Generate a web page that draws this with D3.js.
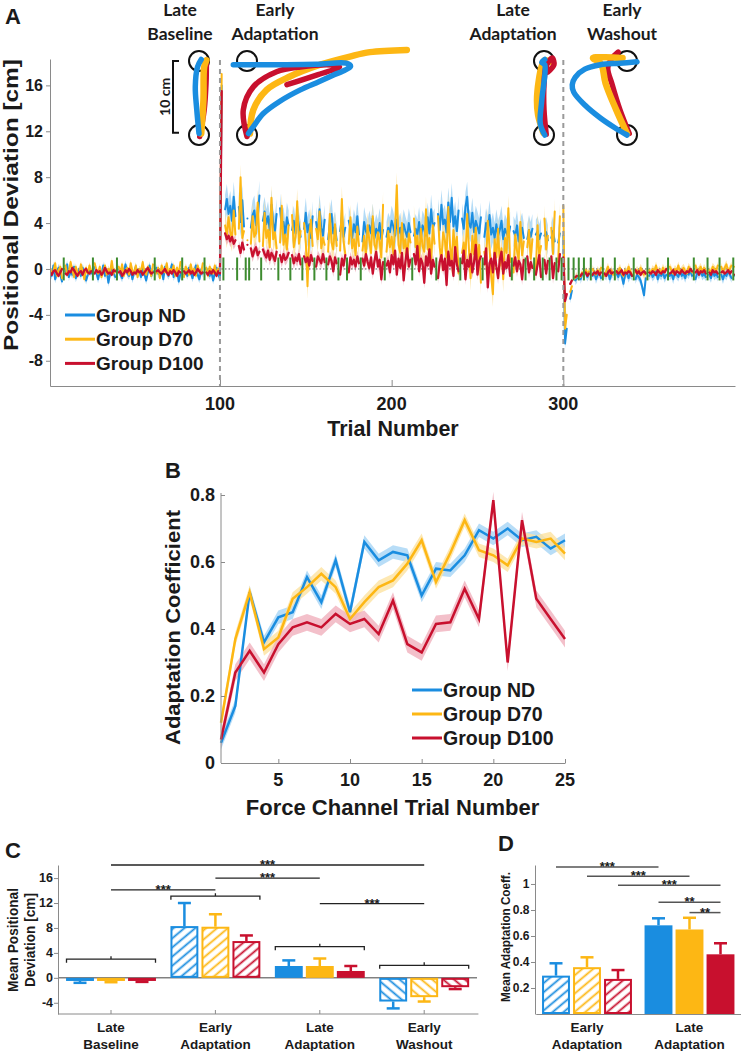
<!DOCTYPE html>
<html><head><meta charset="utf-8">
<script src="https://cdn.jsdelivr.net/npm/d3@7"></script>
<style>body{margin:0;background:#fff}svg{display:block}</style>
</head><body>
<svg id="fig" width="741" height="1051"></svg>
<script>
// ================= DATA =================
const groups = ["Group ND", "Group D70", "Group D100"];
const groupColors = ["#1a8de0", "#fdb714", "#c8102e"];
const bandColors = ["#a6d5f5", "#fde2a0", "#f0b0bd"];
const channelColor = "#3d8b2f";

// ---- Panel A: positional deviation per trial (cm) ----
const xTicksA = [100, 200, 300];
const yTicksA = [-8, -4, 0, 4, 8, 12, 16];
const phaseBoundsA = [100, 300];
const channelsBase = [9, 26, 40, 62, 78, 91];
const channelsAdapt = [102, 110, 115, 117, 124, 134, 141, 148, 155, 162, 169, 174, 182, 196, 212, 226, 240, 253, 270, 278, 283, 288, 292, 296, 299];
const channelsWash = [303, 306, 309, 312, 316, 323, 330, 341, 349, 361, 376, 384, 391, 399];

const baseND = [-0.2,-0.6,0.3,-0.9,-0.4,0.1,-0.5,-1.1,-0.3,-0.2,0.4,-0.7,-0.2,-0.5,0.2,-0.8,-0.4,-0.1,-0.6,0.1,-0.3,-1.0,-0.5,0.0,-0.4,-0.7,0.2,-0.3,-0.9,-0.2,-0.5,0.3,-0.6,-0.1,-1.2,-0.4,0.0,-0.3,-0.7,-0.2,0.1,-0.5,-0.8,-0.2,0.4,-0.4,-0.6,-0.1,-0.9,-0.3,0.2,-0.5,-0.2,-0.7,0.0,-0.4,-1.0,-0.3,0.3,-0.6,-0.2,-0.8,0.1,-0.4,-0.5,-0.1,-0.9,0.2,-0.3,-0.6,-0.2,0.4,-0.7,-0.3,-0.1,-1.1,-0.4,0.0,-0.5,-0.2,-0.6,0.1,-0.3,-0.8,-0.2,0.3,-0.5,-0.9,-0.1,-0.4,-0.7,0.0,-0.3,-0.6,-0.2,-1.0,-0.4,0.1,-0.5,-0.8];
const baseD70 = [0.1,-0.4,-0.2,0.5,-0.6,-0.1,0.2,-0.8,-0.3,0.3,-0.5,-0.2,0.6,-0.1,-0.7,0.2,-0.3,-0.5,0.4,-0.2,-0.9,0.1,-0.4,0.3,-0.2,-0.6,0.5,-0.1,-0.4,0.2,-0.7,-0.2,0.3,-0.5,0.0,-0.3,0.7,-0.4,-0.1,-0.8,0.2,-0.3,0.4,-0.6,-0.1,0.1,-0.5,0.5,-0.2,-0.4,0.3,-0.7,0.0,-0.2,0.6,-0.3,-0.5,0.2,-0.1,-0.6,0.4,-0.2,-0.4,0.1,-0.8,0.3,-0.1,-0.3,0.5,-0.5,0.0,-0.2,0.3,-0.6,0.1,-0.4,0.6,-0.2,-0.7,0.2,-0.1,-0.5,0.4,-0.3,0.0,-0.6,0.3,-0.2,-0.4,0.5,-0.3,0.1,-0.6,0.2,-0.2,-0.4,0.3,-0.5,0.0,-0.3];
const baseD100 = [-0.3,-0.5,-0.2,-0.1,-0.4,-0.6,-0.3,0.0,-0.2,-0.4,-0.5,-0.2,-0.3,0.1,-0.1,-0.4,-0.6,-0.3,-0.2,-0.5,-0.1,0.0,-0.3,-0.4,-0.2,-0.6,-0.4,-0.1,-0.3,-0.2,-0.5,-0.3,0.1,-0.2,-0.4,-0.3,-0.5,-0.1,-0.2,-0.4,-0.3,-0.2,-0.6,-0.4,-0.1,-0.3,0.0,-0.2,-0.5,-0.3,-0.4,-0.1,-0.3,-0.2,-0.5,-0.3,-0.1,0.1,-0.2,-0.4,-0.3,-0.5,-0.2,-0.1,-0.3,-0.4,-0.2,0.0,-0.3,-0.5,-0.2,-0.4,-0.1,-0.3,-0.6,-0.2,-0.3,0.1,-0.2,-0.4,-0.3,-0.1,-0.4,-0.2,-0.5,-0.3,0.0,-0.2,-0.4,-0.3,-0.1,-0.3,-0.5,-0.2,-0.4,-0.1,-0.3,-0.6,-0.2,-0.4];

const adaptND = [16.0,7.5,5.2,6.1,4.8,5.5,4.2,6.3,4.6,3.9,5.4,4.1,6.0,3.7,4.9,4.4,5.8,3.6,4.7,5.1,3.8,4.5,6.4,3.5,4.2,5.0,3.9,4.6,3.4,5.6,4.0,3.3,4.8,3.9,5.3,3.6,4.1,2.9,4.5,3.8,5.0,3.4,4.2,3.1,4.7,3.7,2.8,4.4,3.5,4.9,3.2,3.9,2.7,4.6,3.3,4.1,3.0,5.2,3.6,2.9,4.3,3.4,2.6,3.9,4.8,3.1,3.7,2.5,4.0,3.3,4.5,2.8,3.6,3.0,4.2,3.5,2.7,3.9,3.2,4.6,3.0,3.7,2.4,4.1,3.3,2.9,3.8,3.1,4.4,2.7,3.5,3.0,4.0,2.6,3.4,3.9,2.8,3.6,3.2,4.2,3.7,2.9,4.3,3.1,3.6,2.7,3.9,3.3,2.8,4.0,3.2,4.6,2.9,3.5,3.0,4.1,2.6,3.8,3.4,2.9,4.5,3.1,5.2,3.6,4.0,2.8,4.8,3.4,5.6,3.9,4.3,3.2,5.8,4.1,6.2,3.7,4.6,3.3,5.1,3.8,4.4,3.5,5.4,6.3,4.0,3.6,4.9,3.2,4.2,3.7,3.1,4.5,3.4,2.8,4.0,3.3,4.7,3.0,3.6,2.7,3.9,2.9,3.4,4.2,2.6,3.5,3.1,2.8,3.7,2.5,3.3,2.9,3.8,2.4,3.1,3.6,2.7,3.2,2.6,3.4,2.8,3.5,2.5,3.0,3.3,2.6,3.1,2.4,2.9,3.2,2.5,3.0,2.7,3.3,2.4,2.8,2.3,3.1,2.6,2.9];
const adaptD70 = [17.0,6.0,3.8,2.9,4.5,3.2,2.6,5.1,3.0,2.4,3.5,8.0,2.7,3.3,7.0,2.5,3.9,2.2,4.6,2.8,3.1,5.8,2.4,3.6,2.0,4.9,2.7,3.4,1.9,6.2,2.6,3.2,1.8,4.4,2.3,5.5,2.1,3.0,1.7,3.8,2.5,4.7,1.9,2.8,5.9,2.2,3.3,1.6,4.0,2.4,-1.5,2.9,4.3,2.0,1.4,3.5,2.6,5.0,1.8,2.7,2.1,3.6,1.5,4.8,2.3,1.7,3.9,2.0,6.0,1.6,6.1,2.4,1.3,3.4,2.2,4.5,1.8,2.6,1.2,3.7,2.0,5.3,1.6,2.9,1.1,3.8,2.5,1.4,4.6,2.1,1.7,3.2,2.4,1.0,5.6,2.2,1.5,3.3,1.9,2.8,1.3,3.6,7.3,2.1,1.4,4.0,1.8,2.6,0.9,3.1,2.3,1.2,4.4,1.9,2.9,0.8,3.5,2.0,1.5,5.2,1.7,2.7,0.6,3.8,2.2,1.3,4.6,1.9,0.7,3.2,2.5,1.0,5.4,2.0,0.5,3.4,1.6,2.8,-0.4,3.9,1.4,2.3,0.9,4.8,1.8,-0.8,2.9,1.3,3.6,0.7,2.1,-1.2,3.3,1.5,0.4,4.2,1.9,-0.6,-2.2,2.6,1.0,3.5,0.3,1.8,-0.9,2.7,1.4,5.3,0.6,2.2,-0.3,3.0,1.6,0.8,4.1,1.2,2.4,-0.5,1.9,3.4,0.9,2.6,1.5,-0.2,3.8,1.1,2.0,0.5,4.4,1.7,2.9,0.8,3.6,1.3,5.0,2.1,0.6,4.6,1.8,5.5];
const adaptD100 = [15.5,5.0,3.1,2.6,2.9,2.4,2.8,2.2,2.5,1.6,2.0,1.4,2.3,1.7,1.5,2.1,1.3,1.8,1.1,1.6,1.9,1.2,1.5,0.9,1.7,1.3,1.0,1.6,0.8,1.4,1.1,0.7,1.5,0.9,1.2,0.6,1.3,0.8,1.0,1.4,0.9,1.2,0.5,1.0,0.7,1.3,0.4,0.9,1.1,0.6,1.0,0.3,1.2,0.7,0.9,0.2,1.1,0.8,0.5,1.3,0.6,0.9,0.4,1.1,0.7,-0.2,1.0,0.5,0.8,-0.5,0.9,0.3,1.2,0.6,-0.3,1.0,0.4,0.8,0.2,1.1,0.5,-0.6,0.9,0.3,1.3,0.6,0.1,1.0,-0.4,0.7,1.5,0.2,0.8,-0.9,0.6,1.9,0.3,0.7,-0.3,1.2,0.4,1.6,-0.5,0.9,0.1,1.4,-1.0,0.6,1.8,0.2,0.8,-0.7,1.3,0.4,2.0,-0.2,0.9,0.5,-1.2,1.1,0.3,1.7,-0.4,0.8,0.2,2.2,-0.8,0.6,1.2,-0.1,0.9,-1.4,1.5,0.3,0.7,-0.6,1.9,0.4,-0.2,1.0,0.5,1.6,-0.9,0.8,0.2,1.3,-0.3,0.6,2.1,-0.5,0.7,1.1,-0.1,0.4,1.8,-1.6,0.5,0.9,-0.3,1.4,0.2,-0.8,0.8,1.5,-0.4,0.6,0.1,1.2,-0.6,0.9,0.3,1.0,-0.2,0.7,0.4,-0.9,0.8,0.2,1.1,-0.3,0.6,0.1,0.9,-0.5,0.4,1.2,-0.7,0.5,0.8,-0.4,0.7,0.2,1.1,-0.8,0.5,0.9,-0.2,1.3,0.4,1.0];

const washND = [-6.5,-5.2,-3.8,-2.6,-1.9,-1.4,-1.0,-0.8,-0.6,-0.9,-0.5,-0.8,-0.3,-0.7,-0.4,-1.1,-0.6,-0.2,-0.9,-0.5,-0.3,-0.8,-1.2,-0.4,-0.6,-0.1,-0.9,-0.5,-0.3,-1.0,-0.4,-0.7,-0.2,-0.6,-1.3,-0.5,-0.3,-0.8,-0.4,-0.6,-0.2,-0.9,-0.5,-0.7,-1.0,-1.6,-2.3,-0.8,-0.4,-0.6,-0.3,-0.7,-0.5,-0.2,-0.9,-0.4,-0.6,-0.3,-0.8,-0.5,-0.2,-0.6,-0.4,-0.9,-0.3,-0.5,-0.7,-0.2,-0.6,-0.4,-0.8,-0.3,-0.5,-0.1,-0.6,-0.4,-0.9,-0.3,-0.5,-0.2,-0.6,-0.4,-0.7,-0.3,-0.5,-0.8,-0.2,-0.6,-0.4,-0.7,-0.3,-0.5,-0.9,-0.4,-0.6,-0.2,-0.5,-0.8,-0.4,-0.6];
const washD70 = [-5.2,-4.0,-2.9,-2.0,-1.5,-1.1,-0.8,-0.6,-0.4,-0.7,-0.3,-0.5,-0.1,-0.4,-0.2,-0.6,0.0,-0.3,-0.5,-0.1,-0.4,0.1,-0.3,-0.6,-0.2,0.2,-0.4,-0.1,-0.5,0.0,-0.3,-0.2,0.1,-0.4,-0.6,-0.1,-0.3,0.2,-0.2,-0.5,0.0,-0.3,-0.1,-0.4,0.1,-0.2,-0.5,-0.3,0.2,-0.1,-0.4,0.0,-0.2,0.3,-0.3,-0.1,-0.4,0.1,-0.2,0.0,-0.3,0.2,-0.1,-0.4,0.0,-0.2,0.3,-0.3,-0.1,0.1,-0.2,-0.4,0.2,-0.1,-0.3,0.0,0.3,-0.2,-0.1,0.2,-0.3,0.1,-0.2,0.4,-0.1,-0.3,0.2,0.0,-0.2,0.3,-0.1,0.2,-0.3,0.1,0.4,-0.2,0.0,0.3,-0.1,0.2];
const washD100 = [-2.8,-2.2,-1.7,-1.3,-1.0,-0.8,-0.7,-0.6,-0.5,-0.6,-0.4,-0.5,-0.3,-0.6,-0.4,-0.2,-0.5,-0.3,-0.4,-0.2,-0.5,-0.3,-0.2,-0.4,-0.6,-0.3,-0.1,-0.4,-0.3,-0.5,-0.2,-0.4,-0.3,-0.1,-0.5,-0.3,-0.4,-0.2,-0.3,-0.6,-0.3,-0.1,-0.4,-0.2,-0.5,-0.3,-0.2,-0.4,-0.1,-0.3,-0.4,-0.2,-0.3,-0.5,-0.1,-0.3,-0.4,-0.2,-0.3,0.0,-0.2,-0.4,-0.3,-0.1,-0.5,-0.2,-0.3,-0.4,-0.1,-0.3,-0.4,-0.2,-0.3,0.0,-0.2,-0.4,-0.3,-0.1,-0.5,-0.2,-0.3,-0.1,-0.4,-0.2,-0.3,-0.5,-0.1,-0.3,-0.2,-0.4,-0.1,-0.3,-0.2,-0.4,-0.3,-0.1,-0.4,-0.2,-0.3,-0.5];

// SEM per phase [baseline, adaptation, washout]
const semND_A = [0.35, 1.3, 0.4];
const semD70_A = [0.3, 1.1, 0.35];
const semD100_A = [0.2, 0.5, 0.2];

// Hand-path trajectories (cm; x lateral, y forward from start target)
const trajTitles = [["Late", "Baseline"], ["Early", "Adaptation"], ["Late", "Adaptation"], ["Early", "Washout"]];
const trajLB_ND = [[0.0,0.2],[-0.3,3.4],[-0.5,6.5],[-0.2,9.2],[0.3,10.2]];
const trajLB_D70 = [[0.3,0.2],[0.6,4.7],[0.7,9.2],[1.0,10.1]];
const trajLB_D100 = [[0.1,-0.2],[0.7,3.4],[0.95,7.0],[1.0,10.1]];
const trajEA_ND = [[0.2,0.2],[0.9,1.2],[2.2,2.9],[4.5,4.6],[7.2,6.1],[9.7,7.2],[11.7,8.1],[13.3,8.8],[14.0,9.3],[13.4,9.7],[9.4,9.55],[4.9,9.5],[-1.85,9.5]];
const trajEA_D70 = [[0.4,0.2],[0.85,3.4],[2.65,6.1],[5.8,7.9],[9.9,9.5],[13.9,10.6],[16.6,11.2],[21.6,11.5]];
const trajEA_D100 = [[0.0,-0.2],[-0.5,3.4],[0.85,6.5],[4.0,8.55],[7.2,9.2],[11.6,9.45],[12.5,9.2],[9.4,8.1],[5.4,6.8]];
const trajLA_ND = [[0.1,0.0],[-0.5,1.5],[-0.3,4.7],[0.1,9.5],[-0.3,9.8],[0.1,10.2]];
const trajLA_D70 = [[-0.1,0.3],[-0.8,2.7],[-0.95,4.7],[-0.7,7.4],[-0.3,9.3],[0.1,10.1],[0.8,9.9]];
const trajLA_D100 = [[0.3,0.1],[0.0,3.4],[0.0,6.8],[0.3,9.3],[1.1,10.4],[1.35,9.5],[0.5,8.5]];
const trajEW_ND = [[0.0,0.0],[-1.6,0.95],[-3.6,2.3],[-5.7,4.05],[-7.2,5.8],[-7.4,6.8],[-7.0,7.8],[-5.7,8.9],[-3.6,9.5],[-0.95,9.7],[1.35,9.9]];
const trajEW_D70 = [[0.0,0.2],[-1.5,3.5],[-2.9,7.0],[-3.5,9.6],[-4.6,10.4],[-3.0,10.5],[-0.6,10.4]];
const trajEW_D100 = [[0.3,0.2],[-0.95,3.4],[-2.0,6.8],[-2.6,9.1],[-2.0,10.4],[-1.2,11.2]];

// ---- Panel B: adaptation coefficient per force channel trial ----
const fcTrials = [1,2,3,4,5,6,7,8,9,10,11,12,13,14,15,16,17,18,19,20,21,22,23,24,25];
const xTicksB = [5, 10, 15, 20, 25];
const yTicksB = [0, 0.2, 0.4, 0.6, 0.8];
const acND = [0.06,0.17,0.51,0.36,0.435,0.45,0.555,0.48,0.605,0.45,0.66,0.605,0.63,0.62,0.50,0.58,0.575,0.62,0.695,0.67,0.70,0.665,0.675,0.64,0.665];
const acD70 = [0.12,0.37,0.51,0.34,0.375,0.49,0.525,0.565,0.525,0.43,0.48,0.525,0.545,0.595,0.665,0.54,0.627,0.725,0.635,0.62,0.59,0.67,0.66,0.67,0.625];
const acD100 = [0.07,0.27,0.335,0.27,0.355,0.405,0.42,0.405,0.445,0.415,0.43,0.385,0.485,0.355,0.33,0.415,0.42,0.52,0.43,0.785,0.30,0.725,0.49,0.43,0.37];
const semB = [0.02, 0.02, 0.025];

// ---- Panel C: mean positional deviation per phase ----
const catsC = ["Late Baseline", "Early Adaptation", "Late Adaptation", "Early Washout"];
const yTicksC = [-4, 0, 4, 8, 12, 16];
const mpdND = [-0.5, 8.3, 1.9, -3.8];
const mpdD70 = [-0.5, 8.2, 1.9, -3.1];
const mpdD100 = [-0.5, 5.9, 1.1, -1.5];
const mpdErrND = [0.3, 3.7, 0.9, 1.1];
const mpdErrD70 = [0.2, 2.0, 1.2, 0.7];
const mpdErrD100 = [0.15, 0.9, 0.8, 0.3];
const hatchedC = [false, true, false, true];
const bracketC = [3.0, 13.1, 5.0, 2.0];
// [fromCategory, toCategory, height, label]
const sigC = [[0, 3, 18.1, "***"], [1, 2, 16.0, "***"], [0, 1, 14.1, "***"], [2, 3, 11.9, "***"]];

// ---- Panel D: mean adaptation coefficient ----
const catsD = ["Early Adaptation", "Late Adaptation"];
const yTicksD = [0.2, 0.4, 0.6, 0.8, 1];
const macND = [0.295, 0.682];
const macD70 = [0.36, 0.65];
const macD100 = [0.27, 0.459];
const macErrND = [0.095, 0.054];
const macErrD70 = [0.076, 0.09];
const macErrD100 = [0.068, 0.085];
const hatchedD = [true, false];
// [[cat, group], [cat, group], height, label]
const sigD = [[[0,0],[1,0],1.13,"***"], [[0,1],[1,1],1.06,"***"], [[0,2],[1,2],0.99,"***"], [[1,0],[1,2],0.86,"**"], [[1,1],[1,2],0.78,"**"]];

// ================= DRAWING =================
const ARIAL = "'Liberation Sans', Arial, Helvetica, sans-serif";
const LATO = "Lato, 'Open Sans', sans-serif";
const TXT = "#1a1a1a";
const AXC = "#8a8a8a";
const svg = d3.select("#fig");
svg.append("rect").attr("width", 741).attr("height", 1051).attr("fill", "#fff");

function htext(g, x, y, s, size, anchor = "middle", family = ARIAL) {
  return g.append("text").attr("x", x).attr("y", y).attr("dy", "0.35em")
    .attr("text-anchor", anchor).attr("font-family", family).attr("font-weight", "bold")
    .attr("font-size", size).attr("fill", TXT).text(s);
}
function vtext(g, x, y, s, size, len) {
  return g.append("text").attr("transform", `translate(${x},${y}) rotate(-90)`)
    .attr("text-anchor", "middle").attr("font-family", ARIAL).attr("font-weight", "bold")
    .attr("font-size", size).attr("fill", TXT).attr("textLength", len)
    .attr("lengthAdjust", "spacingAndGlyphs").text(s);
}
function styleAxis(sel) {
  sel.selectAll("path,line").attr("stroke", AXC).attr("stroke-width", 1);
  sel.selectAll("text").remove();
}

// defs: hatch patterns
const defs = svg.append("defs");
groupColors.forEach((c, i) => {
  [["up", -40], ["down", 40]].forEach(([nm, ang]) => {
    const p = defs.append("pattern").attr("id", `hatch-${i}-${nm}`).attr("patternUnits", "userSpaceOnUse")
      .attr("width", 10).attr("height", 7).attr("patternTransform", `rotate(${ang})`);
    p.append("rect").attr("width", 10).attr("height", 7).attr("fill", "#fff");
    p.append("line").attr("x1", -1).attr("x2", 11).attr("y1", 3.5).attr("y2", 3.5).attr("stroke", c).attr("stroke-width", 1.8);
  });
});

// ---------- Panel A ----------
const gA = svg.append("g");
const xA = d3.scaleLinear().domain([1, 400]).range([50, 735]);
const yA = d3.scaleLinear().domain([-10.2, 18.3]).range([386, 59]);
defs.append("clipPath").attr("id", "clipA").append("rect").attr("x", 50).attr("y", 59).attr("width", 685).attr("height", 327);

const channelSet = new Set([...channelsBase, ...channelsAdapt, ...channelsWash]);
function buildSeries(base, adapt, wash, sem) {
  return base.concat(adapt, wash).map((v, i) => {
    const t = i + 1;
    const ph = t <= phaseBoundsA[0] ? 0 : (t <= phaseBoundsA[1] ? 1 : 2);
    return { t, v: channelSet.has(t) ? null : v, s: sem[ph] };
  });
}
const seriesA = [
  buildSeries(baseND, adaptND, washND, semND_A),
  buildSeries(baseD70, adaptD70, washD70, semD70_A),
  buildSeries(baseD100, adaptD100, washD100, semD100_A)
];
const areaA = d3.area().defined(d => d.v !== null).x(d => xA(d.t)).y0(d => yA(d.v - d.s)).y1(d => yA(d.v + d.s));
const lineA = d3.line().defined(d => d.v !== null).x(d => xA(d.t)).y(d => yA(d.v));
const plotA = gA.append("g").attr("clip-path", "url(#clipA)");
seriesA.forEach((s, i) => plotA.append("path").attr("d", areaA(s)).attr("fill", bandColors[i]).attr("opacity", 0.85));
plotA.append("line").attr("x1", xA(1)).attr("x2", xA(400)).attr("y1", yA(0)).attr("y2", yA(0))
  .attr("stroke", "#555").attr("stroke-width", 1).attr("stroke-dasharray", "1.5,2");
seriesA.forEach((s, i) => plotA.append("path").attr("d", lineA(s)).attr("fill", "none")
  .attr("stroke", groupColors[i]).attr("stroke-width", i === 2 ? 2.3 : 2).attr("stroke-linejoin", "round").attr("stroke-linecap", "round"));
[...channelSet].forEach(t => plotA.append("line").attr("x1", xA(t)).attr("x2", xA(t))
  .attr("y1", yA(-1.0)).attr("y2", yA(1.0)).attr("stroke", channelColor).attr("stroke-width", 2));

// axes A
const axAy = gA.append("g").attr("transform", `translate(${xA.range()[0]},0)`)
  .call(d3.axisLeft(yA).tickValues(yTicksA).tickSize(4).tickSizeOuter(0));
styleAxis(axAy);
const axAx = gA.append("g").attr("transform", `translate(0,${yA.range()[0]})`)
  .call(d3.axisBottom(xA).tickValues(xTicksA).tickSize(-6).tickSizeOuter(0));
styleAxis(axAx);
yTicksA.forEach(v => htext(gA, 43, yA(v), String(v), 16, "end"));
xTicksA.forEach(v => htext(gA, xA(v), 404, String(v), 18));
phaseBoundsA.forEach(t => gA.append("line").attr("x1", xA(t)).attr("x2", xA(t)).attr("y1", 60).attr("y2", yA.range()[0])
  .attr("stroke", "#9a9a9a").attr("stroke-width", 2).attr("stroke-dasharray", "5,4"));
vtext(gA, 18, 205, "Positional Deviation [cm]", 20, 292);
htext(gA, 393, 428, "Trial Number", 21.5);
htext(gA, 5, 16, "A", 22, "start");

// legend A
groups.forEach((gname, i) => {
  const y = 315 + i * 24.2;
  gA.append("line").attr("x1", 65).attr("x2", 95).attr("y1", y).attr("y2", y).attr("stroke", groupColors[i]).attr("stroke-width", 3);
  htext(gA, 96, y, gname, 19, "start");
});

// trajectories
const trajSets = [
  { cx: 199, tx: 180, paths: [trajLB_ND, trajLB_D70, trajLB_D100], order: [2, 1, 0] },
  { cx: 247, tx: 275, paths: [trajEA_ND, trajEA_D70, trajEA_D100], order: [1, 2, 0] },
  { cx: 544, tx: 513, paths: [trajLA_ND, trajLA_D70, trajLA_D100], order: [1, 2, 0] },
  { cx: 627, tx: 622, paths: [trajEW_ND, trajEW_D70, trajEW_D100], order: [2, 1, 0] }
];
const tyS = d3.scaleLinear().domain([0, 10]).range([135, 61]);
const txS = d3.scaleLinear().domain([0, 10]).range([0, 74]);
const gT = svg.append("g");
trajSets.forEach((ts, k) => {
  [0, 10].forEach(v => gT.append("circle").attr("cx", ts.cx).attr("cy", tyS(v)).attr("r", 10)
    .attr("fill", "none").attr("stroke", "#111").attr("stroke-width", 2));
  const ln = d3.line().curve(d3.curveCatmullRom.alpha(0.5)).x(d => ts.cx + txS(d[0])).y(d => tyS(d[1]));
  ts.order.forEach(gi => gT.append("path").attr("d", ln(ts.paths[gi])).attr("fill", "none")
    .attr("stroke", groupColors[gi]).attr("stroke-width", gi === 1 ? 6.5 : 5.5)
    .attr("stroke-linecap", "round").attr("stroke-linejoin", "round"));
  trajTitles[k].forEach((s, j) => gT.append("text").attr("x", ts.tx).attr("y", j === 0 ? 16 : 39.5)
    .attr("text-anchor", "middle").attr("font-family", LATO).attr("font-weight", "bold")
    .attr("font-size", 17.5).attr("fill", TXT).text(s));
});
// scale bar 10 cm
gT.append("path").attr("d", `M${173 + 6},${tyS(10)}H173V${tyS(0.3)}H${173 + 6}`).attr("fill", "none").attr("stroke", "#111").attr("stroke-width", 2);
gT.append("text").attr("transform", `translate(169.5,${(tyS(10) + tyS(0.3)) / 2}) rotate(-90)`).attr("text-anchor", "middle")
  .attr("font-family", LATO).attr("font-weight", "bold").attr("font-size", 14).attr("fill", TXT).text("10 cm");

// ---------- Panel B ----------
const gB = svg.append("g");
const xB = d3.scaleLinear().domain([1, 25]).range([221, 565]);
const yB = d3.scaleLinear().domain([0, 0.8]).range([763, 495]);
const seriesB = [acND, acD70, acD100];
const areaB = d3.area().x((d, i) => xB(fcTrials[i]));
const lineB = d3.line().x((d, i) => xB(fcTrials[i])).y(d => yB(d));
seriesB.forEach((s, gi) => gB.append("path")
  .attr("d", areaB.y0(d => yB(d - semB[gi])).y1(d => yB(d + semB[gi]))(s))
  .attr("fill", bandColors[gi]).attr("opacity", 0.8));
seriesB.forEach((s, gi) => gB.append("path").attr("d", lineB(s)).attr("fill", "none")
  .attr("stroke", groupColors[gi]).attr("stroke-width", 2.5).attr("stroke-linejoin", "miter"));
const axBy = gB.append("g").attr("transform", `translate(${xB.range()[0]},0)`)
  .call(d3.axisLeft(yB).tickValues(yTicksB).tickSize(-4).tickSizeOuter(0));
styleAxis(axBy);
axBy.select(".domain").attr("d", `M0,${yB(0)}V${yB(0.8) - 2}`);
const axBx = gB.append("g").attr("transform", `translate(0,${yB.range()[0]})`)
  .call(d3.axisBottom(xB).tickValues(xTicksB).tickSize(-4).tickSizeOuter(0));
styleAxis(axBx);
yTicksB.forEach(v => htext(gB, 215, yB(v), String(v), 18, "end"));
xTicksB.forEach(v => htext(gB, xB(v), 780, String(v), 18));
vtext(gB, 180, 627.5, "Adaptation Coefficient", 20, 235);
htext(gB, 392.5, 807, "Force Channel Trial Number", 22);
htext(gB, 165, 470, "B", 22, "start");
groups.forEach((gname, i) => {
  const y = 690 + i * 24;
  gB.append("line").attr("x1", 412).attr("x2", 442).attr("y1", y).attr("y2", y).attr("stroke", groupColors[i]).attr("stroke-width", 3);
  htext(gB, 443, y, gname, 19.5, "start");
});

// ---------- Bar helper ----------
function drawBars(g, cats, vals, errs, hatched, xO, xI, y) {
  cats.forEach((c, ci) => {
    groups.forEach((gname, gi) => {
      const v = vals[gi][ci], e = errs[gi][ci];
      const x0 = xO(c) + xO.bandwidth() / 2 + xI(gname);
      const w = xI.bandwidth();
      const cx = x0 + w / 2;
      const sgn = v >= 0 ? 1 : -1;
      g.append("line").attr("x1", cx).attr("x2", cx).attr("y1", y(v)).attr("y2", y(v + sgn * e))
        .attr("stroke", groupColors[gi]).attr("stroke-width", 2.5);
      g.append("line").attr("x1", cx - 6.5).attr("x2", cx + 6.5).attr("y1", y(v + sgn * e)).attr("y2", y(v + sgn * e))
        .attr("stroke", groupColors[gi]).attr("stroke-width", 2.5);
      const top = Math.min(y(0), y(v)), h = Math.abs(y(v) - y(0));
      if (hatched[ci]) {
        g.append("rect").attr("x", x0 + 1).attr("y", top + 1).attr("width", w - 2).attr("height", Math.max(0, h - 2))
          .attr("fill", `url(#hatch-${gi}-${sgn > 0 ? "up" : "down"})`).attr("stroke", groupColors[gi]).attr("stroke-width", 2);
      } else {
        g.append("rect").attr("x", x0).attr("y", top).attr("width", w).attr("height", h).attr("fill", groupColors[gi]);
      }
    });
  });
}
function barCenter(xO, xI, cat, gname) { return xO(cat) + xO.bandwidth() / 2 + xI(gname) + xI.bandwidth() / 2; }
const xInner = d3.scaleBand().domain(groups).range([-46.5, 46.5]).paddingInner(0.1).paddingOuter(0.05);

// ---------- Panel C ----------
const gC = svg.append("g");
const xC = d3.scaleBand().domain(catsC).range([58.8, 476.4]);
const yC = d3.scaleLinear().domain([-5.8, 18.1]).range([1014, 865]);
gC.append("line").attr("x1", 58).attr("x2", 477).attr("y1", yC(0)).attr("y2", yC(0)).attr("stroke", "#444").attr("stroke-width", 1);
drawBars(gC, catsC, [mpdND, mpdD70, mpdD100], [mpdErrND, mpdErrD70, mpdErrD100], hatchedC, xC, xInner, yC);
const axCy = gC.append("g").attr("transform", "translate(58,0)")
  .call(d3.axisLeft(yC).tickValues(yTicksC).tickSize(4).tickSizeOuter(0));
styleAxis(axCy);
const axCx = gC.append("g").attr("transform", `translate(0,${yC.range()[0]})`)
  .call(d3.axisBottom(xC).tickSize(-4).tickSizeOuter(0));
styleAxis(axCx);
axCx.select(".domain").attr("d", "M-0.8,0H419.6").attr("transform", "translate(58.8,0)");
yTicksC.forEach(v => htext(gC, 53, yC(v), String(v), 12.5, "end"));
catsC.forEach(c => {
  const [a, b] = c.split(" ");
  htext(gC, xC(c) + xC.bandwidth() / 2, 1027, a, 13.5);
  htext(gC, xC(c) + xC.bandwidth() / 2, 1044, b, 13.5);
});
// group brackets
catsC.forEach((c, ci) => {
  const x1 = xC(c) + xC.bandwidth() / 2 - 44.5, x2 = xC(c) + xC.bandwidth() / 2 + 44.5, yb = yC(bracketC[ci]);
  const xm = xC(c) + xC.bandwidth() / 2;
  gC.append("path").attr("d", `M${x1},${yb + 3.5}V${yb}H${x2}V${yb + 3.5}M${xm},${yb}V${yb - 3}`)
    .attr("fill", "none").attr("stroke", "#222").attr("stroke-width", 1.3);
});
sigC.forEach(([a, b, h, lab]) => {
  const x1 = xC(catsC[a]) + xC.bandwidth() / 2, x2 = xC(catsC[b]) + xC.bandwidth() / 2, ys = yC(h);
  gC.append("line").attr("x1", x1).attr("x2", x2).attr("y1", ys).attr("y2", ys).attr("stroke", "#222").attr("stroke-width", 1.3);
  gC.append("text").attr("x", (x1 + x2) / 2).attr("y", ys + 4).attr("text-anchor", "middle").attr("font-family", ARIAL)
    .attr("font-weight", "bold").attr("font-size", 13).attr("fill", TXT).text(lab);
});
vtext(gC, 18, 940, "Mean Positional", 14, 104);
vtext(gC, 35, 940, "Deviation [cm]", 14, 94);
htext(gC, 5, 850, "C", 22, "start");

// ---------- Panel D ----------
const gD = svg.append("g");
const xD = d3.scaleBand().domain(catsD).range([535.75, 740.75]);
const yD = d3.scaleLinear().domain([0, 1.146]).range([1014, 865]);
drawBars(gD, catsD, [macND, macD70, macD100], [macErrND, macErrD70, macErrD100], hatchedD, xD, xInner, yD);
const axDy = gD.append("g").attr("transform", "translate(535,0)")
  .call(d3.axisLeft(yD).tickValues(yTicksD).tickSize(4).tickSizeOuter(0));
styleAxis(axDy);
const axDx = gD.append("g").attr("transform", `translate(0,${yD.range()[0]})`)
  .call(d3.axisBottom(xD).tickSize(0).tickSizeOuter(0));
styleAxis(axDx);
yTicksD.forEach(v => htext(gD, 529.5, yD(v), String(v), 12, "end"));
catsD.forEach(c => {
  const [a, b] = c.split(" ");
  htext(gD, xD(c) + xD.bandwidth() / 2, 1027, a, 13.5);
  htext(gD, xD(c) + xD.bandwidth() / 2, 1044, b, 13.5);
});
sigD.forEach(([p, q, h, lab]) => {
  const x1 = barCenter(xD, xInner, catsD[p[0]], groups[p[1]]), x2 = barCenter(xD, xInner, catsD[q[0]], groups[q[1]]), ys = yD(h);
  gD.append("line").attr("x1", x1).attr("x2", x2).attr("y1", ys).attr("y2", ys).attr("stroke", "#555").attr("stroke-width", 1.5);
  gD.append("text").attr("x", (x1 + x2) / 2).attr("y", ys + 4).attr("text-anchor", "middle").attr("font-family", ARIAL)
    .attr("font-weight", "bold").attr("font-size", 13).attr("fill", TXT).text(lab);
});
vtext(gD, 510, 937, "Mean Adaptation Coeff.", 12, 130);
htext(gD, 498, 843, "D", 22, "start");
</script>
</body></html>
